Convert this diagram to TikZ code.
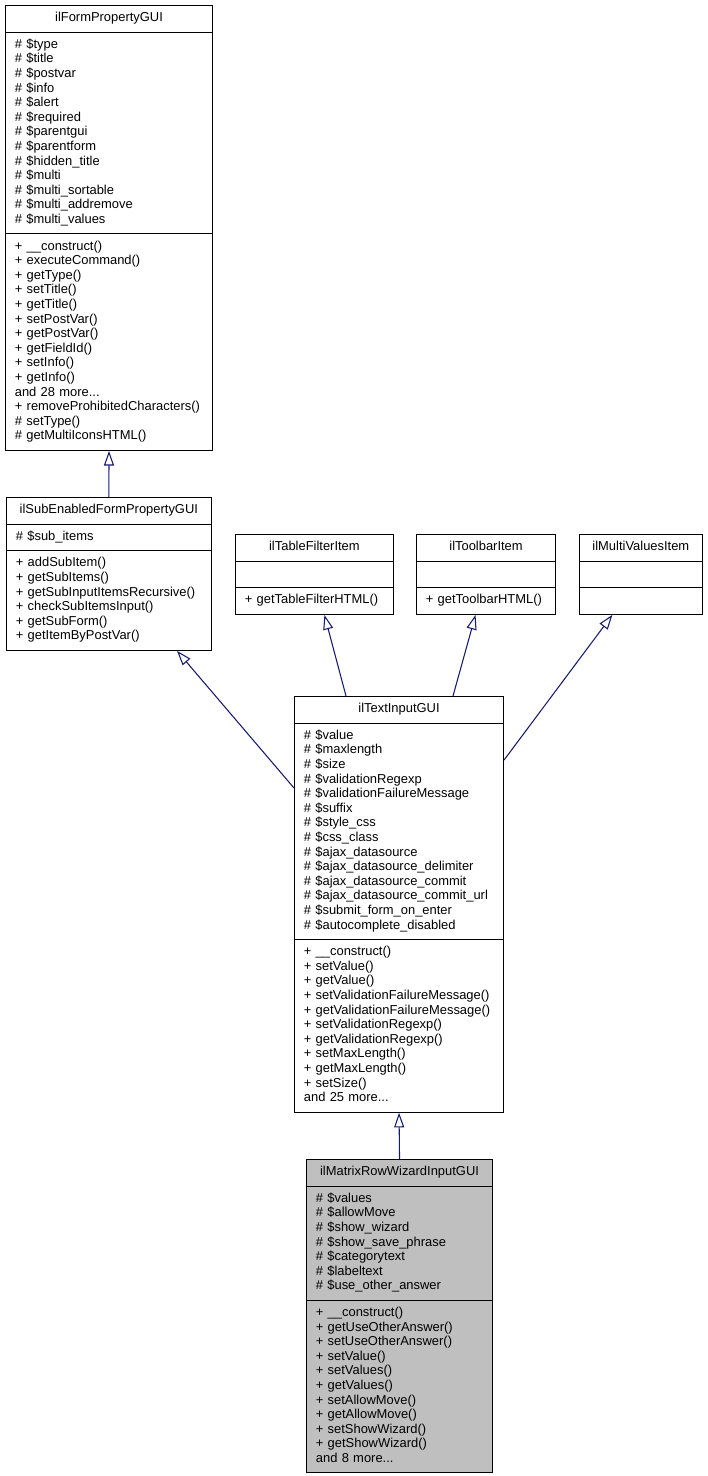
\documentclass[tikz,border=0pt]{standalone}
\usepackage{fontspec}
\setmainfont{Liberation Sans}
\usetikzlibrary{shapes.multipart,arrows.meta,calc}

\definecolor{midnightblue}{HTML}{191970}
\definecolor{grey75}{HTML}{BFBFBF}
\newcommand{\umlfont}{\fontsize{9.7}{10.95}\selectfont}
\newcommand{\umltitle}[1]{\strut\hfill #1\hfill\null}

\tikzset{
  umlclass/.style={rectangle split, rectangle split parts=3, draw=black, fill=white,
    line width=0.8pt, anchor=north west, font=\umlfont, align=left,
    inner xsep=7pt, inner ysep=4.1pt},
  inherit/.style={draw=midnightblue, line width=0.8pt,
    -{Triangle[open,length=11pt,width=7.5pt]}}
}

\begin{document}
\begin{tikzpicture}[x=0.75pt,y=-0.75pt]
\useasboundingbox (0,0) rectangle (707,1476);

% base classes
\node[umlclass, text width=141.25pt] (formprop) at (5,5) {\umltitle{ilFormPropertyGUI}
\nodepart{second}\strut\# \$type\\
\# \$title\\
\# \$postvar\\
\# \$info\\
\# \$alert\\
\# \$required\\
\# \$parentgui\\
\# \$parentform\\
\# \$hidden\_title\\
\# \$multi\\
\# \$multi\_sortable\\
\# \$multi\_addremove\\
\# \$multi\_values\strut
\nodepart{third}\strut + \_\_construct()\\
+ executeCommand()\\
+ getType()\\
+ setTitle()\\
+ getTitle()\\
+ setPostVar()\\
+ getPostVar()\\
+ getFieldId()\\
+ setInfo()\\
+ getInfo()\\
and 28 more...\\
+ removeProhibitedCharacters()\\
\# setType()\\
\# getMultiIconsHTML()\strut};

\node[umlclass, text width=139.5pt] (subenabled) at (6,497) {\umltitle{ilSubEnabledFormPropertyGUI}
\nodepart{second}\strut\# \$sub\_items\strut
\nodepart{third}\strut + addSubItem()\\
+ getSubItems()\\
+ getSubInputItemsRecursive()\\
+ checkSubItemsInput()\\
+ getSubForm()\\
+ getItemByPostVar()\strut};

\node[umlclass, text width=104.3pt] (tablefilter) at (235,534) {\umltitle{ilTableFilterItem}
\nodepart{second}\strut
\nodepart{third}\strut + getTableFilterHTML()\strut};

\node[umlclass, text width=90.25pt] (toolbar) at (416,534) {\umltitle{ilToolbarItem}
\nodepart{second}\strut
\nodepart{third}\strut + getToolbarHTML()\strut};

\node[umlclass, text width=78pt] (multivalues) at (579,534) {\umltitle{ilMultiValuesItem}
\nodepart{second}\strut
\nodepart{third}\strut};

% text input
\node[umlclass, text width=142.75pt] (textinput) at (294,696) {\umltitle{ilTextInputGUI}
\nodepart{second}\strut\# \$value\\
\# \$maxlength\\
\# \$size\\
\# \$validationRegexp\\
\# \$validationFailureMessage\\
\# \$suffix\\
\# \$style\_css\\
\# \$css\_class\\
\# \$ajax\_datasource\\
\# \$ajax\_datasource\_delimiter\\
\# \$ajax\_datasource\_commit\\
\# \$ajax\_datasource\_commit\_url\\
\# \$submit\_form\_on\_enter\\
\# \$autocomplete\_disabled\strut
\nodepart{third}\strut + \_\_construct()\\
+ setValue()\\
+ getValue()\\
+ setValidationFailureMessage()\\
+ getValidationFailureMessage()\\
+ setValidationRegexp()\\
+ getValidationRegexp()\\
+ setMaxLength()\\
+ getMaxLength()\\
+ setSize()\\
and 25 more...\strut};

% the class itself
\node[umlclass, fill=grey75, text width=125.5pt] (matrixrow) at (306,1159) {\umltitle{ilMatrixRowWizardInputGUI}
\nodepart{second}\strut\# \$values\\
\# \$allowMove\\
\# \$show\_wizard\\
\# \$show\_save\_phrase\\
\# \$categorytext\\
\# \$labeltext\\
\# \$use\_other\_answer\strut
\nodepart{third}\strut + \_\_construct()\\
+ getUseOtherAnswer()\\
+ setUseOtherAnswer()\\
+ setValue()\\
+ setValues()\\
+ getValues()\\
+ setAllowMove()\\
+ getAllowMove()\\
+ setShowWizard()\\
+ getShowWizard()\\
and 8 more...\strut};

% inheritance
\draw[inherit] (subenabled.north) -- (formprop.south);
\draw[inherit] ($(textinput.north west)+(0,92)$) -- ($(subenabled.south west)+(171,0)$);
\draw[inherit] ($(textinput.north west)+(52,0)$) -- ($(tablefilter.south)+(10,0)$);
\draw[inherit] ($(textinput.north west)+(159,0)$) -- ($(toolbar.south)+(-10.5,0)$);
\draw[inherit] ($(textinput.north east)+(0,64)$) -- ($(multivalues.south)+(-28.5,0)$);
\draw[inherit] (matrixrow.north) -- (textinput.south);
\end{tikzpicture}
\end{document}
